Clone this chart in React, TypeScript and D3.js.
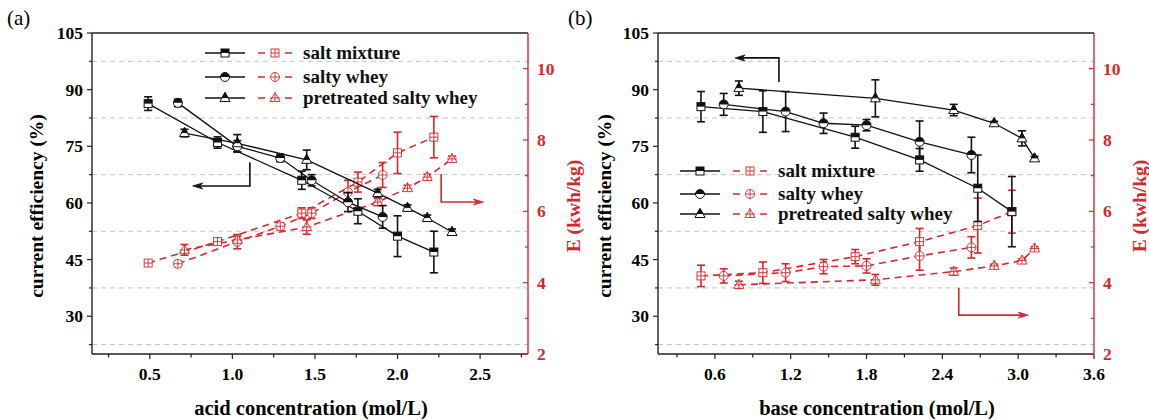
import React from 'react';
import * as d3 from 'd3';

const RED = '#d6282c';
const BLK = '#111111';
const FONT = '"Liberation Serif", "Times New Roman", serif';

// ---------- Panel (a): acid concentration ----------
const aX_sm = [0.49, 0.91, 1.42, 1.76, 2.0, 2.22];
const aCE_sm = [86.3, 76.0, 66.0, 57.8, 51.2, 47.0];
const aCEerr_sm = [1.8, 1.5, 2.4, 3.3, 5.4, 5.5];
const aE_sm = [4.55, 5.15, 5.95, 6.82, 7.64, 8.08];
const aEerr_sm = [0.05, 0.05, 0.15, 0.28, 0.58, 0.58];

const aX_sw = [0.67, 1.03, 1.29, 1.48, 1.7, 1.91];
const aCE_sw = [86.5, 75.0, 71.9, 66.0, 60.2, 56.3];
const aCEerr_sw = [1.0, 1.5, 1.0, 1.5, 2.5, 3.0];
const aE_sw = [4.53, 5.15, 5.58, 5.95, 6.54, 7.02];
const aEerr_sw = [0.08, 0.2, 0.1, 0.15, 0.33, 0.35];

const aX_pw = [0.71, 1.03, 1.45, 1.88, 2.06, 2.18, 2.33];
const aCE_pw = [78.5, 75.8, 71.4, 62.6, 58.7, 56.0, 52.3];
const aCEerr_pw = [1.0, 2.3, 2.6, 1.0, 0.8, 0.8, 0.8];
const aE_pw = [4.92, 5.2, 5.56, 6.26, 6.65, 6.96, 7.47];
const aEerr_pw = [0.15, 0.1, 0.2, 0.1, 0.08, 0.08, 0.08];

const aXTicks = [0.5, 1.0, 1.5, 2.0, 2.5];
const aXMinor = [0.25, 0.75, 1.25, 1.75, 2.25, 2.75];

// ---------- Panel (b): base concentration ----------
const bX_sm = [0.49, 0.98, 1.71, 2.22, 2.68, 2.95];
const bCE_sm = [85.5, 84.2, 77.4, 71.4, 63.9, 57.7];
const bCEerr_sm = [4.0, 5.5, 2.9, 3.0, 8.8, 9.3];
const bE_sm = [4.19, 4.28, 4.73, 5.15, 5.6, 5.99];
const bEerr_sm = [0.3, 0.3, 0.2, 0.37, 0.77, 0.6];

const bX_sw = [0.67, 1.16, 1.46, 1.8, 2.22, 2.63];
const bCE_sw = [86.1, 84.2, 81.1, 80.6, 76.2, 72.7];
const bCEerr_sw = [2.9, 5.3, 2.7, 1.5, 5.5, 4.7];
const bE_sw = [4.19, 4.28, 4.45, 4.47, 4.75, 4.99];
const bEerr_sw = [0.2, 0.25, 0.2, 0.2, 0.4, 0.3];

const bX_pw = [0.79, 1.87, 2.49, 2.81, 3.03, 3.13];
const bCE_pw = [90.4, 87.7, 84.6, 81.1, 77.1, 71.8];
const bCEerr_pw = [1.9, 4.9, 1.5, 0.5, 2.0, 0.5];
const bE_pw = [3.94, 4.08, 4.31, 4.47, 4.62, 4.96];
const bEerr_pw = [0.1, 0.15, 0.1, 0.05, 0.05, 0.05];

const bXTicks = [0.6, 1.2, 1.8, 2.4, 3.0, 3.6];
const bXMinor = [0.3, 0.9, 1.5, 2.1, 2.7, 3.3];

// ---------- shared axes ----------
const ceTicks = [30, 45, 60, 75, 90, 105];
const ceMinor = [22.5, 37.5, 52.5, 67.5, 82.5, 97.5];
const eTicks = [2, 4, 6, 8, 10];
const eMinor = [3, 5, 7, 9];
const legendNames = ['salt mixture', 'salty whey', 'pretreated salty whey'];

type Shape = 'square' | 'circle' | 'triangle';
interface Series { x: number[]; ce: number[]; ceErr: number[]; e: number[]; eErr: number[]; shape: Shape; }

const TOP = 33;
const BOTTOM = 354;

function BlackMarker({ shape, cx, cy }: { shape: Shape; cx: number; cy: number }) {
  if (shape === 'square') {
    return (
      <g>
        <rect x={cx - 4} y={cy - 4} width={8} height={8} fill="#fff" stroke={BLK} strokeWidth={1} />
        <rect x={cx - 4} y={cy - 4} width={8} height={4} fill={BLK} />
      </g>
    );
  }
  if (shape === 'circle') {
    const r = 4.5;
    return (
      <g>
        <circle cx={cx} cy={cy} r={r} fill="#fff" stroke={BLK} strokeWidth={1} />
        <path d={`M${cx - r},${cy} A${r},${r} 0 0 1 ${cx + r},${cy} Z`} fill={BLK} />
      </g>
    );
  }
  return (
    <g>
      <polygon points={`${cx},${cy - 5.5} ${cx + 5},${cy + 3.5} ${cx - 5},${cy + 3.5}`} fill="#fff" stroke={BLK} strokeWidth={1} />
      <polygon points={`${cx},${cy - 5.5} ${cx + 2.8},${cy - 0.5} ${cx - 2.8},${cy - 0.5}`} fill={BLK} stroke={BLK} strokeWidth={1} />
    </g>
  );
}

function RedMarker({ shape, cx, cy }: { shape: Shape; cx: number; cy: number }) {
  const sw = 0.9;
  if (shape === 'square') {
    return (
      <g stroke={RED} strokeWidth={sw}>
        <rect x={cx - 4} y={cy - 4} width={8} height={8} fill="#fff" />
        <line x1={cx - 4} x2={cx + 4} y1={cy} y2={cy} />
        <line x1={cx} x2={cx} y1={cy - 4} y2={cy + 4} />
      </g>
    );
  }
  if (shape === 'circle') {
    return (
      <g stroke={RED} strokeWidth={sw}>
        <circle cx={cx} cy={cy} r={4.5} fill="#fff" />
        <line x1={cx - 4.5} x2={cx + 4.5} y1={cy} y2={cy} />
        <line x1={cx} x2={cx} y1={cy - 4.5} y2={cy + 4.5} />
      </g>
    );
  }
  return (
    <g stroke={RED} strokeWidth={sw}>
      <polygon points={`${cx},${cy - 5.5} ${cx + 5},${cy + 3.5} ${cx - 5},${cy + 3.5}`} fill="#fff" />
      <line x1={cx - 5} x2={cx + 5} y1={cy} y2={cy} />
      <line x1={cx} x2={cx} y1={cy - 5.5} y2={cy + 3.5} />
    </g>
  );
}

function ErrBar({ cx, y1, y2, color }: { cx: number; y1: number; y2: number; color: string }) {
  return (
    <g stroke={color} strokeWidth={1.6}>
      <line x1={cx} x2={cx} y1={y1} y2={y2} />
      <line x1={cx - 4} x2={cx + 4} y1={y1} y2={y1} />
      <line x1={cx - 4} x2={cx + 4} y1={y2} y2={y2} />
    </g>
  );
}

interface ArrowSpec { x0: number; y0: number; y1: number; x1: number; axis: 'L' | 'R'; }

interface PanelSpec {
  tag: string; tagX: number;
  left: number; right: number;
  xDomain: [number, number]; xTicks: number[]; xMinor: number[];
  xTitle: string; series: Series[];
  legendX: number; legendRows: number[];
  leftTitleX: number; rightTitleX: number;
  blackArrow: ArrowSpec; redArrow: ArrowSpec;
}

function Panel({ p }: { p: PanelSpec }) {
  const x = d3.scaleLinear().domain(p.xDomain).range([p.left, p.right]);
  const yL = d3.scaleLinear().domain([20, 105]).range([BOTTOM, TOP]);
  const yR = d3.scaleLinear().domain([2, 11]).range([BOTTOM, TOP]);
  const fmtX = d3.format('.1f');

  const arrow = (a: ArrowSpec, color: string) => {
    const ys = a.axis === 'L' ? yL : yR;
    const px0 = x(a.x0), py0 = ys(a.y0), py1 = ys(a.y1), px1 = x(a.x1);
    const dir = px1 > px0 ? 1 : -1;
    const tip = px1;
    const head = `${tip},${py1} ${tip - dir * 10},${py1 - 3} ${tip - dir * 7},${py1} ${tip - dir * 10},${py1 + 3}`;
    return (
      <g>
        <polyline points={`${px0},${py0} ${px0},${py1} ${tip - dir * 7},${py1}`} fill="none" stroke={color} strokeWidth={1.6} />
        <polygon points={head} fill={color} stroke={color} strokeWidth={0.8} />
      </g>
    );
  };

  const path = (xs: number[], vs: number[], ys: d3.ScaleLinear<number, number>) =>
    d3.line<number>().x((_, i) => x(xs[i])).y((v) => ys(v))(vs) || '';

  const midY = 206;

  return (
    <g fontFamily={FONT}>
      <text x={p.tagX} y={25} fontSize={21}>{p.tag}</text>

      {/* gridlines */}
      {ceMinor.map((v) => (
        <line key={'g' + v} x1={p.left} x2={p.right} y1={yL(v)} y2={yL(v)} stroke="#c4c4c4" strokeWidth={1} strokeDasharray="5,4" />
      ))}

      {/* red E series */}
      {p.series.map((s, k) => (
        <path key={'rl' + k} d={path(s.x, s.e, yR)} fill="none" stroke={RED} strokeWidth={1.6} strokeDasharray="7,5" />
      ))}
      {p.series.map((s, k) => (
        <g key={'re' + k}>
          {s.x.map((xv, i) => (
            <ErrBar key={i} cx={x(xv)} y1={yR(s.e[i] + s.eErr[i])} y2={yR(s.e[i] - s.eErr[i])} color={RED} />
          ))}
        </g>
      ))}
      {p.series.map((s, k) => (
        <g key={'rm' + k}>
          {s.x.map((xv, i) => (
            <RedMarker key={i} shape={s.shape} cx={x(xv)} cy={yR(s.e[i])} />
          ))}
        </g>
      ))}

      {/* black CE series */}
      {p.series.map((s, k) => (
        <path key={'bl' + k} d={path(s.x, s.ce, yL)} fill="none" stroke={BLK} strokeWidth={1.3} />
      ))}
      {p.series.map((s, k) => (
        <g key={'be' + k}>
          {s.x.map((xv, i) => (
            <ErrBar key={i} cx={x(xv)} y1={yL(s.ce[i] + s.ceErr[i])} y2={yL(s.ce[i] - s.ceErr[i])} color={BLK} />
          ))}
        </g>
      ))}
      {p.series.map((s, k) => (
        <g key={'bm' + k}>
          {s.x.map((xv, i) => (
            <BlackMarker key={i} shape={s.shape} cx={x(xv)} cy={yL(s.ce[i])} />
          ))}
        </g>
      ))}

      {/* arrows */}
      {arrow(p.blackArrow, BLK)}
      {arrow(p.redArrow, RED)}

      {/* legend */}
      {p.series.map((s, k) => {
        const ly = p.legendRows[k];
        const lx = p.legendX;
        return (
          <g key={'lg' + k}>
            <line x1={lx} x2={lx + 40} y1={ly} y2={ly} stroke={BLK} strokeWidth={1.6} />
            <BlackMarker shape={s.shape} cx={lx + 20} cy={ly} />
            <line x1={lx + 53} x2={lx + 87} y1={ly} y2={ly} stroke={RED} strokeWidth={1.6} strokeDasharray="7,6.5" />
            <RedMarker shape={s.shape} cx={lx + 70} cy={ly} />
            <text x={lx + 98} y={ly + 6} fontSize={19} fontWeight="bold" fill={BLK}>{legendNames[k]}</text>
          </g>
        );
      })}

      {/* frame: top */}
      <line x1={p.left} x2={p.right} y1={TOP} y2={TOP} stroke="#222" strokeWidth={1.4} />
      {/* bottom axis */}
      <line x1={p.left} x2={p.right} y1={BOTTOM} y2={BOTTOM} stroke="#222" strokeWidth={1.4} />
      {p.xTicks.map((t) => (
        <g key={'xt' + t}>
          <line x1={x(t)} x2={x(t)} y1={BOTTOM} y2={BOTTOM + 5} stroke="#222" strokeWidth={1.2} />
          <text x={x(t)} y={380} fontSize={17.5} fontWeight="bold" textAnchor="middle">{fmtX(t)}</text>
        </g>
      ))}
      {p.xMinor.map((t) => (
        <line key={'xm' + t} x1={x(t)} x2={x(t)} y1={BOTTOM} y2={BOTTOM + 3.5} stroke="#222" strokeWidth={1.2} />
      ))}
      <text x={(p.left + p.right) / 2 + 1} y={415} fontSize={20.5} fontWeight="bold" textAnchor="middle">{p.xTitle}</text>

      {/* left axis */}
      <line x1={p.left} x2={p.left} y1={TOP} y2={BOTTOM} stroke="#222" strokeWidth={1.4} />
      {ceTicks.map((t) => (
        <g key={'yl' + t}>
          <line x1={p.left - 5} x2={p.left} y1={yL(t)} y2={yL(t)} stroke="#222" strokeWidth={1.2} />
          <text x={p.left - 9} y={yL(t) + 6} fontSize={17.5} fontWeight="bold" textAnchor="end">{t}</text>
        </g>
      ))}
      {ceMinor.map((t) => (
        <line key={'ylm' + t} x1={p.left - 3} x2={p.left} y1={yL(t)} y2={yL(t)} stroke="#222" strokeWidth={1.2} />
      ))}
      <text transform={`translate(${p.leftTitleX},${midY}) rotate(-90)`} fontSize={19.5} fontWeight="bold" textAnchor="middle" dominantBaseline="central">current efficiency (%)</text>

      {/* right axis */}
      <line x1={p.right} x2={p.right} y1={TOP} y2={BOTTOM} stroke={RED} strokeWidth={1.4} />
      {eTicks.map((t) => (
        <g key={'yr' + t}>
          <line x1={p.right - 5} x2={p.right} y1={yR(t)} y2={yR(t)} stroke={RED} strokeWidth={1.2} />
          <text x={p.right + 9} y={yR(t) + 6} fontSize={17.5} fontWeight="bold" fill={RED}>{t}</text>
        </g>
      ))}
      {eMinor.map((t) => (
        <line key={'yrm' + t} x1={p.right - 3} x2={p.right} y1={yR(t)} y2={yR(t)} stroke={RED} strokeWidth={1.2} />
      ))}
      <text transform={`translate(${p.rightTitleX},${midY}) rotate(-90)`} fontSize={19.5} fontWeight="bold" textAnchor="middle" dominantBaseline="central" fill={RED}>E (kwh/kg)</text>
    </g>
  );
}

const panelA: PanelSpec = {
  tag: '(a)', tagX: 7,
  left: 92, right: 528,
  xDomain: [0.15, 2.79], xTicks: aXTicks, xMinor: aXMinor,
  xTitle: 'acid concentration (mol/L)',
  series: [
    { x: aX_sm, ce: aCE_sm, ceErr: aCEerr_sm, e: aE_sm, eErr: aEerr_sm, shape: 'square' },
    { x: aX_sw, ce: aCE_sw, ceErr: aCEerr_sw, e: aE_sw, eErr: aEerr_sw, shape: 'circle' },
    { x: aX_pw, ce: aCE_pw, ceErr: aCEerr_pw, e: aE_pw, eErr: aEerr_pw, shape: 'triangle' },
  ],
  legendX: 205, legendRows: [53, 77, 98],
  leftTitleX: 36, rightTitleX: 573,
  blackArrow: { x0: 1.106, y0: 70.8, y1: 64.5, x1: 0.76, axis: 'L' },
  redArrow: { x0: 2.264, y0: 7.05, y1: 6.26, x1: 2.52, axis: 'R' },
};

const panelB: PanelSpec = {
  tag: '(b)', tagX: 568,
  left: 658, right: 1094,
  xDomain: [0.15, 3.6], xTicks: bXTicks, xMinor: bXMinor,
  xTitle: 'base concentration (mol/L)',
  series: [
    { x: bX_sm, ce: bCE_sm, ceErr: bCEerr_sm, e: bE_sm, eErr: bEerr_sm, shape: 'square' },
    { x: bX_sw, ce: bCE_sw, ceErr: bCEerr_sw, e: bE_sw, eErr: bEerr_sw, shape: 'circle' },
    { x: bX_pw, ce: bCE_pw, ceErr: bCEerr_pw, e: bE_pw, eErr: bEerr_pw, shape: 'triangle' },
  ],
  legendX: 680, legendRows: [171, 194, 214],
  leftTitleX: 604, rightTitleX: 1139,
  blackArrow: { x0: 1.107, y0: 92.0, y1: 98.4, x1: 0.76, axis: 'L' },
  redArrow: { x0: 2.53, y0: 3.85, y1: 3.09, x1: 3.08, axis: 'R' },
};

export default function App() {
  return (
    <svg width={1149} height={420} style={{ position: 'absolute', left: 0, top: 0, background: '#fff' }}>
      <rect x={0} y={0} width={1149} height={420} fill="#fff" />
      <Panel p={panelA} />
      <Panel p={panelB} />
    </svg>
  );
}
